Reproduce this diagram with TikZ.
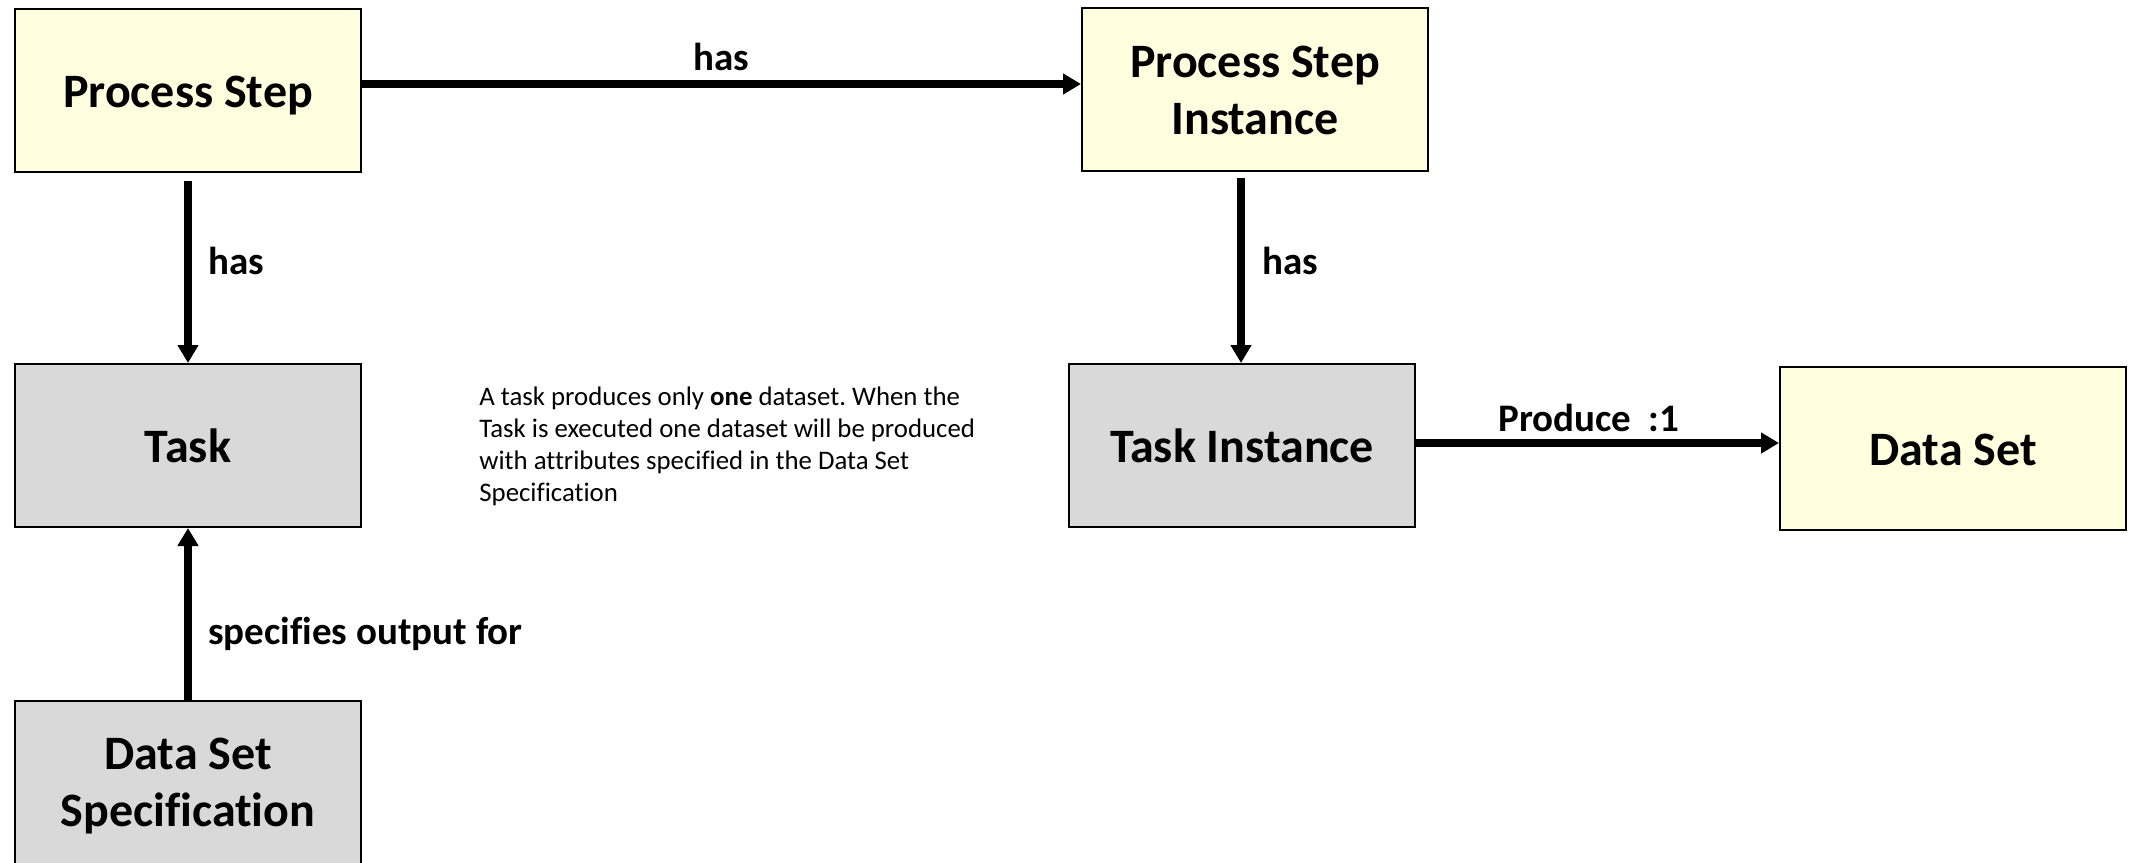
\documentclass[tikz,border=0pt]{standalone}
\usepackage{fontspec}
\setmainfont{Carlito}[Ligatures=NoCommon]
\usetikzlibrary{arrows.meta}
\definecolor{boxyellow}{HTML}{FFFFDF}
\definecolor{boxgray}{HTML}{D9D9D9}
\tikzset{
  box/.style={draw=black, line width=1pt, minimum width=173pt, minimum height=81.5pt, align=center, font=\fontsize{24}{28.5}\selectfont\bfseries, inner sep=0pt},
  ybox/.style={box, fill=boxyellow},
  gbox/.style={box, fill=boxgray},
  conn/.style={line width=3.6pt, -{Triangle[length=9pt,width=10pt]}},
  lbl/.style={font=\fontsize{19.5}{23}\selectfont\bfseries, inner sep=0pt},
}
\newcommand{\lowertext}[2]{\raisebox{-#1}[\height][\depth]{#2}}
\frenchspacing
\begin{document}
\begin{tikzpicture}[x=0.5pt,y=-0.5pt]
\useasboundingbox (0,0) rectangle (2129,862);
\node[ybox] (ps) at (188,90.5) {\lowertext{2.7pt}{Process Step}};
\node[ybox] (psi) at (1255,89) {\lowertext{3pt}{\begin{tabular}{@{}c@{}}Process Step\\Instance\end{tabular}}};
\node[gbox] (task) at (188,445.5) {Task};
\node[gbox] (ti) at (1242,445.5) {Task Instance};
\node[ybox] (ds) at (1953,448.5) {\lowertext{0.7pt}{Data Set}};
\node[gbox] (dss) at (188,782.5) {\lowertext{2pt}{\begin{tabular}{@{}c@{}}Data Set\\Specification\end{tabular}}};

\draw[conn] (ps.east |- 0,84) -- (psi.west |- 0,84);
\draw[conn, shorten <=4pt] (ps.south) -- (task.north);
\draw[conn, shorten <=3pt] (psi.south -| 1241,0) -- (ti.north -| 1241,0);
\draw[conn] (ti.east |- 0,443) -- (ds.west |- 0,443);
\draw[conn] (dss.north) -- (task.south);

\node[lbl] (l1) at (721,57) {has};
\node[lbl] (l2) at (236,261) {has};
\node[lbl] (l3) at (1290,261) {has};
\node[lbl] (l4) at (1589,418) {Produce\ \ :1};
\node[lbl, anchor=west] (l5) at (208,634) {specifies output for};

\node[anchor=north west, align=left, inner sep=0pt, font=\fontsize{13.4}{16.1}\selectfont] (note) at (479,386) {A task produces only \textbf{one} dataset. When the\\Task is executed one dataset will be produced\\with attributes specified in the Data Set\\Specification};
\end{tikzpicture}
\end{document}
